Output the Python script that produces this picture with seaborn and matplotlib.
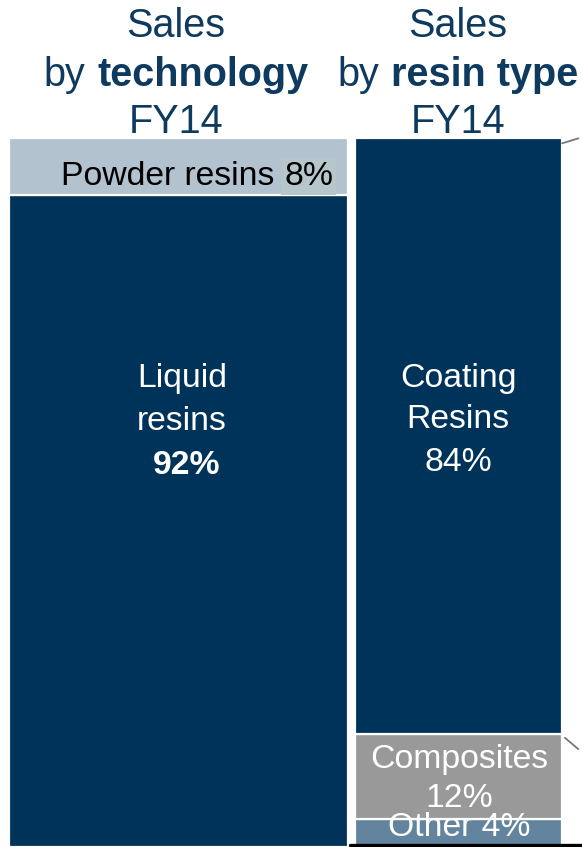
import matplotlib
matplotlib.use("Agg")
import matplotlib.pyplot as plt
from matplotlib.transforms import IdentityTransform
import seaborn as sns

# ---- data -------------------------------------------------------------
bars = ["technology", "resin type"]

tech_segments = ["Liquid resins", "Powder resins"]   # bottom -> top
tech_shares = [92, 8]

resin_segments = ["Other", "Composites", "Coating Resins"]   # bottom -> top
resin_shares = [4, 12, 84]

title_year = "FY14"

# ---- style ------------------------------------------------------------
NAVY = "#003359"
TITLE_COLOR = "#0D3A5E"
tech_colors = [NAVY, "#B3C2CF"]
resin_colors = ["#62849E", "#999999", NAVY]
bar_widths = [1.21, 0.74]

W, H = 582, 847
sns.set_theme(style="white")
plt.rcParams["font.family"] = ["Liberation Sans", "DejaVu Sans"]

fig = plt.figure(figsize=(W / 100, H / 100), dpi=100)
fig.patch.set_facecolor("white")
ax = fig.add_axes([0, 0, 1, (H - 138) / H])


def draw_stack(bar, width, shares, colors):
    bottom = 0
    for share, color in zip(shares, colors):
        sns.barplot(x=[bar], y=[share], order=bars, bottom=bottom, width=width,
                    color=color, saturation=1, errorbar=None,
                    edgecolor="white", linewidth=1.6, ax=ax)
        bottom += share


draw_stack(bars[0], bar_widths[0], tech_shares, tech_colors)
draw_stack(bars[1], bar_widths[1], resin_shares, resin_colors)

ax.set_xlim(-0.6375, 1.441)
ax.set_ylim(0, 100)
ax.axis("off")

# baseline rule under the right-hand column
ax.axhline(0.3, xmin=350 / W, xmax=1, color="black", lw=2.4, clip_on=False)

# leader ticks on the right of the resin column
right_edge = 1 + bar_widths[1] / 2
top_total = sum(resin_shares)
split = resin_shares[0] + resin_shares[1]
ax.plot([right_edge, right_edge + 0.058], [top_total - 0.75, top_total - 0.05],
        color="#777777", lw=1.3, clip_on=False)
ax.plot([right_edge + 0.01, right_edge + 0.058], [split - 0.6, split - 2.2],
        color="#777777", lw=1.3, clip_on=False)

# ---- text -------------------------------------------------------------
px = IdentityTransform()
renderer = fig.canvas.get_renderer()


def put(x, y, s, size, color, weight="normal", ha="center", **kw):
    return fig.text(x, H - y, s, fontsize=size, color=color, fontweight=weight,
                    ha=ha, va="baseline", transform=px, **kw)


def mixed_line(cx, baseline, parts, size, color):
    texts = [put(0, baseline, s, size, color, weight=w, ha="left") for s, w in parts]
    widths = [t.get_window_extent(renderer).width for t in texts]
    space = 0.30 * size * 100 / 72
    total = sum(widths) + space * (len(widths) - 1)
    x = cx - total / 2
    for t, w in zip(texts, widths):
        t.set_position((x, H - baseline))
        x += w + space


TS = 28.5
for cx, word in [(176, "technology"), (458, "resin type")]:
    put(cx, 37, "Sales", TS, TITLE_COLOR)
    mixed_line(cx, 86, [("by", "normal"), (word, "bold")], TS, TITLE_COLOR)
    put(cx, 133, title_year, TS, TITLE_COLOR)

LS = 24.3
# technology column labels
pct = put(333, 185, f"{tech_shares[1]}%", LS, "black", ha="right",
          bbox=dict(boxstyle="square,pad=0.08", fc="#B6C6CB", ec="none"))
put(333 - pct.get_window_extent(renderer).width - 0.28 * LS * 100 / 72, 185,
    tech_segments[1], LS, "black", ha="right")
liq1, liq2 = tech_segments[0].split(" ")
put(182, 387, liq1, LS, "white")
put(182, 430, liq2, LS, "white")
put(187, 474, f"{tech_shares[0]}%", LS, "white", weight="bold")

# resin column labels
coat1, coat2 = resin_segments[2].split(" ")
put(458, 387, coat1, LS, "white")
put(458, 428, coat2, LS, "white")
put(458, 471, f"{resin_shares[2]}%", LS, "white")
put(459, 768, resin_segments[1], LS, "white")
put(459, 807, f"{resin_shares[1]}%", LS, "white")
put(459, 836, f"{resin_segments[0]} {resin_shares[0]}%", LS, "white")

fig.savefig("out.png", dpi=100, facecolor="white")
